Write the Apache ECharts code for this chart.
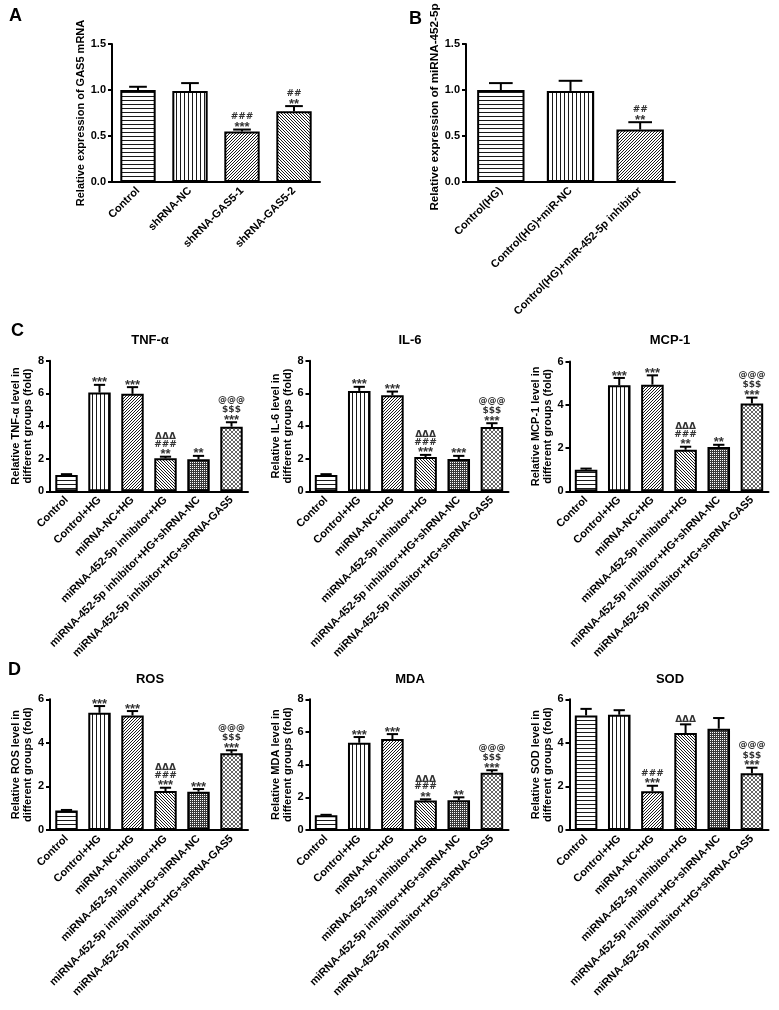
<!DOCTYPE html>
<html><head><meta charset="utf-8">
<script src="https://cdn.jsdelivr.net/npm/echarts@6/dist/echarts.min.js"></script>
<style>html,body{margin:0;padding:0;background:#fff}#c{width:779px;height:1010px}</style>
</head><body><div id="c"></div>
<script>
// ---------- data ----------
const catsA = ['Control', 'shRNA-NC', 'shRNA-GAS5-1', 'shRNA-GAS5-2'];
const meanA = [1.00, 0.99, 0.55, 0.77];
const errA  = [0.035, 0.085, 0.02, 0.055];
const annA  = ['', '', '###\n***', '##\n**'];

const catsB = ['Control(HG)', 'Control(HG)+miR-NC', 'Control(HG)+miR-452-5p inhibitor'];
const meanB = [1.00, 0.99, 0.57];
const errB  = [0.075, 0.11, 0.08];
const annB  = ['', '', '##\n**'];

const catsCD = ['Control', 'Control+HG', 'miRNA-NC+HG', 'miRNA-452-5p inhibitor+HG',
  'miRNA-452-5p inhibitor+HG+shRNA-NC', 'miRNA-452-5p inhibitor+HG+shRNA-GAS5'];

const meanTNF = [1.00, 6.05, 5.97, 2.02, 1.96, 3.96];
const errTNF  = [0.05, 0.47, 0.41, 0.10, 0.21, 0.27];
const annTNF  = ['', '***', '***', 'ΔΔΔ\n###\n**', '**', '@@@\n$$$\n***'];

const meanIL6 = [1.00, 6.15, 5.89, 2.10, 1.98, 3.94];
const errIL6  = [0.05, 0.25, 0.22, 0.13, 0.19, 0.23];
const annIL6  = ['', '***', '***', 'ΔΔΔ\n###\n***', '***', '@@@\n$$$\n***'];

const meanMCP1 = [1.00, 4.90, 4.93, 1.92, 2.05, 4.06];
const errMCP1  = [0.05, 0.34, 0.43, 0.14, 0.10, 0.27];
const annMCP1  = ['', '***', '***', 'ΔΔΔ\n###\n**', '**', '@@@\n$$$\n***'];

const meanROS = [0.89, 5.38, 5.26, 1.79, 1.76, 3.52];
const errROS  = [0.03, 0.31, 0.20, 0.15, 0.12, 0.14];
const annROS  = ['', '***', '***', 'ΔΔΔ\n###\n***', '***', '@@@\n$$$\n***'];

const meanMDA = [0.90, 5.34, 5.57, 1.80, 1.82, 3.51];
const errMDA  = [0.03, 0.35, 0.30, 0.08, 0.18, 0.15];
const annMDA  = ['', '***', '***', 'ΔΔΔ\n###\n**', '**', '@@@\n$$$\n***'];

const meanSOD = [5.26, 5.29, 1.78, 4.45, 4.65, 2.61];
const errSOD  = [0.30, 0.21, 0.25, 0.40, 0.49, 0.25];
const annSOD  = ['', '', '###\n***', 'ΔΔΔ', '', '@@@\n$$$\n***'];

// ---------- styling helpers ----------
const FF = '"Liberation Sans", Arial, Helvetica, sans-serif';
const FA = '"DejaVu Sans", sans-serif';

function pat(type) {
  const n = (type === 'd1' || type === 'd2') ? 3 : (type === 'xd' ? 2 : 4);
  const c = document.createElement('canvas'); c.width = n; c.height = n;
  const g = c.getContext('2d');
  g.fillStyle = '#fff'; g.fillRect(0, 0, n, n);
  g.fillStyle = '#1a1a1a';
  if (type === 'h') g.fillRect(0, 0, n, 1);
  else if (type === 'v') g.fillRect(0, 0, 1, n);
  else if (type === 'd1') { for (let i = 0; i < n; i++) g.fillRect(i, n - 1 - i, 1, 1); }
  else if (type === 'd2') { for (let i = 0; i < n; i++) g.fillRect(i, i, 1, 1); }
  else if (type === 'xd') { g.fillStyle = '#3a3a3a'; g.fillRect(0, 0, n, n); g.fillStyle = '#fff'; g.fillRect(0, 0, 1, 1); }
  else if (type === 'xl') { g.fillStyle = '#666'; for (let i = 0; i < n; i++) { g.fillRect(i, i, 1, 1); g.fillRect(i, n - 1 - i, 1, 1); } }
  return { image: c, repeat: 'repeat' };
}

function errRender(anns) {
  return function (params, api) {
    const x = api.value(0), m = api.value(1), u = api.value(2);
    const p0 = api.coord([x, m]); const p1 = api.coord([x, u]);
    const cw = api.size([1, 0])[0];
    const hw = cw * 0.17;
    const children = [
      { type: 'line', shape: { x1: p0[0], y1: p0[1], x2: p1[0], y2: p1[1] }, style: { stroke: '#000', lineWidth: 2 } },
      { type: 'line', shape: { x1: p1[0] - hw, y1: p1[1], x2: p1[0] + hw, y2: p1[1] }, style: { stroke: '#000', lineWidth: 2 } }
    ];
    const t = anns[params.dataIndex];
    if (t) {
      const lines = t.split('\n').reverse();
      let off = -5;
      lines.forEach((ln, k) => {
        if (k > 0) off -= (ln.charAt(0) === '@' ? 10.5 : 7.5);
        const star = ln.charAt(0) === '*';
        children.push({ type: 'text', x: p1[0], y: p1[1] + off + (star ? 3 : 0),
          style: { text: ln, fill: '#333', font: star ? ('bold 13px ' + FF) : ('bold 9px ' + FA),
            align: 'center', verticalAlign: 'middle' } });
      });
    }
    return { type: 'group', children };
  };
}

const grids = [], xAxes = [], yAxes = [], series = [];
function panel(g, cats, means, errs, anns, pats, ymax, yint, dec, yname, gap, nameStyle) {
  const gi = grids.length;
  grids.push(Object.assign({ containLabel: false }, g));
  xAxes.push({ type: 'category', gridIndex: gi, data: cats,
    axisLine: { lineStyle: { color: '#000', width: 2 } },
    axisTick: { alignWithLabel: true, length: 4, lineStyle: { color: '#000', width: 2 } },
    axisLabel: { rotate: 45, interval: 0, fontFamily: FF, fontSize: 11, fontWeight: 'bold', color: '#000', margin: 7 } });
  yAxes.push({ type: 'value', gridIndex: gi, min: 0, max: ymax, interval: yint,
    name: yname, nameLocation: 'middle', nameRotate: 90, nameGap: gap,
    nameTextStyle: Object.assign({ fontFamily: FF, fontSize: 11, fontWeight: 'bold', color: '#000', lineHeight: 12 }, nameStyle || {}),
    axisLine: { show: true, lineStyle: { color: '#000', width: 2 } },
    axisTick: { show: true, length: 4, lineStyle: { color: '#000', width: 2 } },
    axisLabel: { fontFamily: FF, fontSize: 11, fontWeight: 'bold', color: '#000', margin: 6, formatter: v => v.toFixed(dec) },
    splitLine: { show: false } });
  series.push({ type: 'bar', xAxisIndex: gi, yAxisIndex: gi, barWidth: '68%', silent: true,
    itemStyle: { borderColor: '#000', borderWidth: 2 },
    data: means.map((v, i) => ({ value: v, itemStyle: { color: pat(pats[i]) } })) });
  series.push({ type: 'custom', xAxisIndex: gi, yAxisIndex: gi, z: 5, silent: true,
    encode: { x: 0, y: [1, 2] },
    renderItem: errRender(anns),
    data: means.map((v, i) => [i, v, v + errs[i]]) });
}

const P6 = ['h', 'v', 'd1', 'd2', 'xd', 'xl'];
panel({ left: 112, top: 44, width: 208, height: 138 }, catsA, meanA, errA, annA, ['h', 'v', 'd1', 'd2'], 1.5, 0.5, 1, 'Relative expression of GAS5 mRNA', 25);
panel({ left: 466, top: 44, width: 209, height: 138 }, catsB, meanB, errB, annB, ['h', 'v', 'd1'], 1.5, 0.5, 1, 'Relative expression of miRNA-452-5p', 21, { fontSize: 11.7, padding: [0, 0, 0, 12] });
panel({ left: 50, top: 360.7, width: 198, height: 130.6 }, catsCD, meanTNF, errTNF, annTNF, P6, 8, 2, 0, 'Relative TNF-α level in\ndifferent groups (fold)', 15);
panel({ left: 309.5, top: 360.7, width: 199, height: 130.6 }, catsCD, meanIL6, errIL6, annIL6, P6, 8, 2, 0, 'Relative IL-6 level in\ndifferent groups (fold)', 15);
panel({ left: 569.5, top: 361.5, width: 199, height: 129.8 }, catsCD, meanMCP1, errMCP1, annMCP1, P6, 6, 2, 0, 'Relative MCP-1 level in\ndifferent groups (fold)', 15);
panel({ left: 50, top: 699.3, width: 198, height: 130.7 }, catsCD, meanROS, errROS, annROS, P6, 6, 2, 0, 'Relative ROS level in\ndifferent groups (fold)', 15);
panel({ left: 309.5, top: 699.3, width: 199, height: 130.7 }, catsCD, meanMDA, errMDA, annMDA, P6, 8, 2, 0, 'Relative MDA level in\ndifferent groups (fold)', 15);
panel({ left: 569.5, top: 699.3, width: 199, height: 130.7 }, catsCD, meanSOD, errSOD, annSOD, P6, 6, 2, 0, 'Relative SOD level in\ndifferent groups (fold)', 15);

function ttl(text, left, top, size, center) {
  const o = { text, left, top, padding: 0, textStyle: { fontFamily: FF, fontSize: size, fontWeight: 'bold', color: '#000' } };
  if (center) o.textAlign = 'center';
  return o;
}
const titles = [
  ttl('A', 9, 7, 18), ttl('B', 409, 10, 18), ttl('C', 11, 322, 18), ttl('D', 8, 661, 18),
  ttl('TNF-α', 150, 334, 13, true), ttl('IL-6', 410, 334, 13, true), ttl('MCP-1', 670, 334, 13, true),
  ttl('ROS', 150, 673, 13, true), ttl('MDA', 410, 673, 13, true), ttl('SOD', 670, 673, 13, true)
];

const chart = echarts.init(document.getElementById('c'), null, { renderer: 'canvas' });
chart.setOption({ animation: false, backgroundColor: '#fff', title: titles,
  grid: grids, xAxis: xAxes, yAxis: yAxes, series });
</script></body></html>
